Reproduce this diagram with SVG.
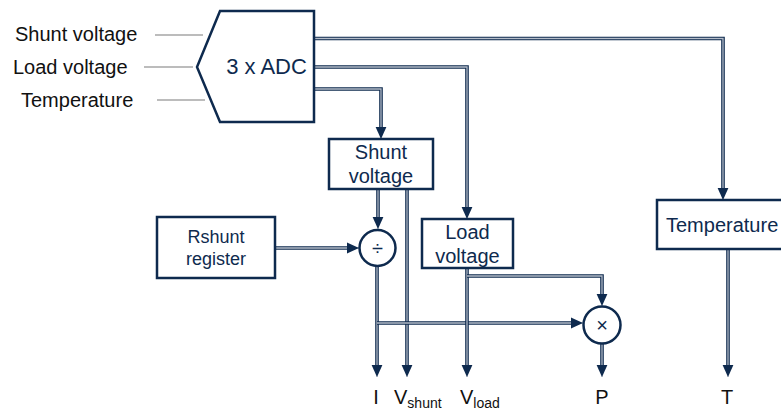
<svg xmlns="http://www.w3.org/2000/svg" width="781" height="410" viewBox="0 0 781 410">
<style>
.lbl{font-family:"Liberation Sans",Arial,sans-serif;font-size:20px;fill:#111}
.ntx{font-family:"Liberation Sans",Arial,sans-serif;font-size:20px;fill:#0e2a4e;text-anchor:middle}
.box{fill:#fff;stroke:#0e2a4e;stroke-width:2.5}
.in{stroke:#a6a6a6;stroke-width:1.5;fill:none}
.o{fill:none;stroke:#0e2a4e;stroke-width:3.6}
.i{fill:none;stroke:#b4bcc8;stroke-width:1.3;marker-end:url(#ah)}
</style>
<defs>
<marker id="ah" markerUnits="userSpaceOnUse" markerWidth="12" markerHeight="12" viewBox="0 0 10 10" refX="10" refY="5" orient="auto">
<path d="M0,0.5 L10,5 L0,9.5 Z" fill="#0e2a4e"/>
</marker>
</defs>
<g id="inputs">
<text class="lbl" x="15" y="41">Shunt voltage</text>
<text class="lbl" x="13" y="74">Load voltage</text>
<text class="lbl" x="21" y="107">Temperature</text>
<line class="in" x1="155" y1="35" x2="203" y2="35"/>
<line class="in" x1="144" y1="67" x2="193" y2="67"/>
<line class="in" x1="157" y1="100" x2="205" y2="100"/>
</g>
<g id="connectors">
<path class="o" d="M314,38.5 H723 V190"/><path class="i" d="M314,38.5 H723 V200"/>
<path class="o" d="M314,67 H467 V209"/><path class="i" d="M314,67 H467 V219"/>
<path class="o" d="M314,89 H381 V129"/><path class="i" d="M314,89 H381 V139"/>
<path class="o" d="M378,189 V219"/><path class="i" d="M378,189 V229"/>
<path class="o" d="M407,189 V367"/><path class="i" d="M407,189 V377"/>
<path class="o" d="M275,248 H349"/><path class="i" d="M275,248 H359"/>
<path class="o" d="M377,266 V367"/><path class="i" d="M377,266 V377"/>
<path class="o" d="M377,323 H573"/><path class="i" d="M377,323 H583"/>
<path class="o" d="M467,268 V367"/><path class="i" d="M467,268 V377"/>
<path class="o" d="M467,276 H602 V296"/><path class="i" d="M467,276 H602 V306"/>
<path class="o" d="M602,343 V367"/><path class="i" d="M602,343 V377"/>
<path class="o" d="M728,249 V367"/><path class="i" d="M728,249 V377"/>
</g>
<g id="adc">
<polygon class="box" points="220,11 314,11 314,122 220,122 197,67"/>
<text x="266.5" y="74" style="font-family:'Liberation Sans',Arial,sans-serif;font-size:22px;fill:#0e2a4e;text-anchor:middle">3 x ADC</text>
</g>
<g id="shunt">
<rect class="box" x="329" y="139" width="104" height="50"/>
<text class="ntx" x="381" y="159">Shunt</text>
<text class="ntx" x="381" y="183">voltage</text>
</g>
<g id="load">
<rect class="box" x="422" y="219" width="91" height="49"/>
<text class="ntx" x="467.5" y="239">Load</text>
<text class="ntx" x="467.5" y="263">voltage</text>
</g>
<g id="rshunt">
<rect class="box" x="157" y="217" width="118" height="61"/>
<text class="ntx" x="216" y="243" style="font-size:18px">Rshunt</text>
<text class="ntx" x="216" y="265" style="font-size:18px">register</text>
</g>
<g id="temp">
<rect class="box" x="657" y="200" width="128" height="49"/>
<text class="ntx" x="666" y="232" style="text-anchor:start">Temperature</text>
</g>
<g id="div">
<circle cx="377.5" cy="248" r="18" fill="#fff" stroke="#0e2a4e" stroke-width="2.5"/>
<text class="ntx" x="377.5" y="255">÷</text>
</g>
<g id="mul">
<circle cx="602" cy="325" r="18.5" fill="#fff" stroke="#0e2a4e" stroke-width="2.5"/>
<text class="ntx" x="602" y="332">×</text>
</g>
<g id="outputs">
<text class="lbl" x="376" y="404" style="text-anchor:middle">I</text>
<text class="lbl" x="394" y="404">V<tspan style="font-size:14px" dy="4">shunt</tspan></text>
<text class="lbl" x="460" y="404">V<tspan style="font-size:14px" dy="4">load</tspan></text>
<text class="lbl" x="602" y="404" style="text-anchor:middle">P</text>
<text class="lbl" x="727" y="404" style="text-anchor:middle">T</text>
</g>
</svg>
